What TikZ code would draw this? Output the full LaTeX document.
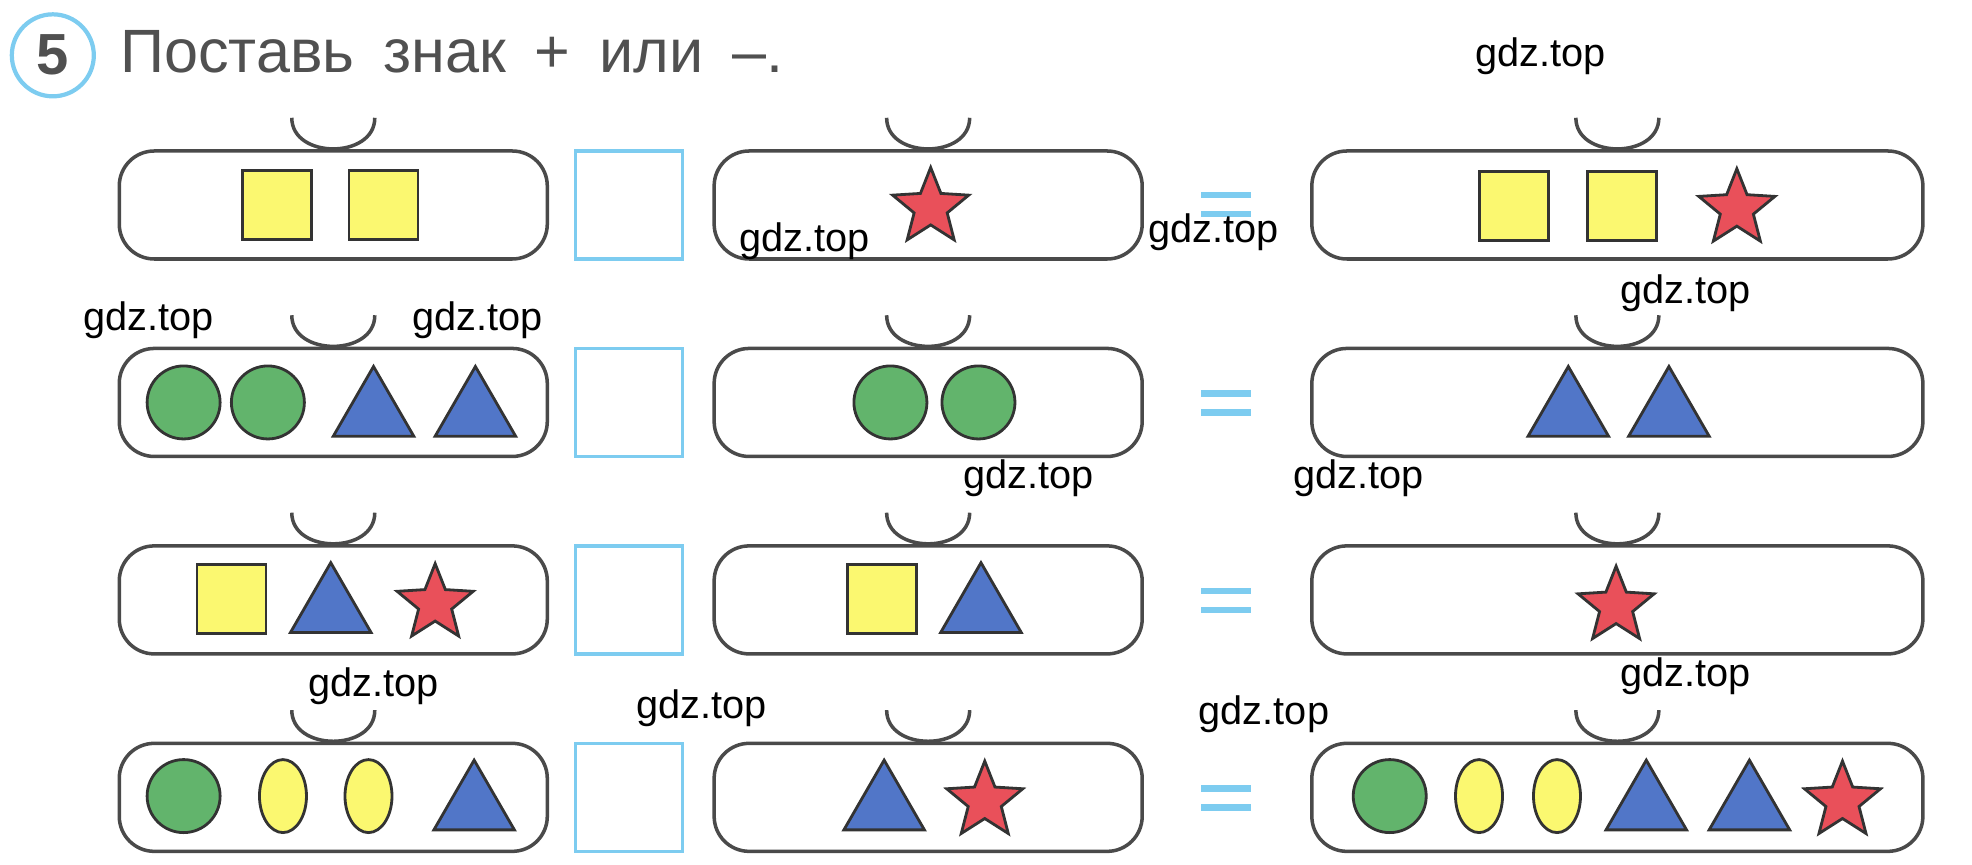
\documentclass[tikz,border=0pt]{standalone}
\usepackage{fontspec}
\setmainfont{Liberation Sans}
\newfontfamily\titlefont[WordSpace=1.7]{Liberation Sans}
\usetikzlibrary{shapes.geometric}

\definecolor{frameline}{HTML}{4A4A4A}
\definecolor{skyline}{HTML}{7DCCF0}
\definecolor{lemon}{HTML}{FBF870}
\definecolor{leaf}{HTML}{62B46C}
\definecolor{cobalt}{HTML}{5176C8}
\definecolor{coral}{HTML}{E9505A}
\definecolor{inkgrey}{HTML}{505050}

\tikzset{
  frame/.style={draw=frameline, line width=1pt, rounded corners=3.5mm, minimum height=10.8mm, inner sep=0},
  cup/.style={draw=frameline, line width=1pt},
  gap/.style={draw=skyline, line width=1pt, minimum width=10.7mm, minimum height=10.8mm, inner sep=0},
  eqbar/.style={draw=skyline, line width=1.8pt},
  outline/.style={draw=black!80, line width=0.8pt, inner sep=0},
  sqr/.style={outline, fill=lemon, minimum size=6.9mm},
  ball/.style={outline, fill=leaf, circle, minimum size=7.3mm},
  oval/.style={outline, fill=lemon, ellipse, minimum width=4.7mm, minimum height=7.3mm},
  tri/.style={outline, fill=cobalt, regular polygon, regular polygon sides=3, minimum size=9.3mm, anchor=south},
  redstar/.style={outline, fill=coral, star, star points=5, star point ratio=2.3, minimum size=8mm},
  wm/.style={font=\fontsize{11.3}{13}\selectfont, inner sep=0},
}

\begin{document}
\begin{tikzpicture}[x=0.12577mm, y=-0.12577mm]
\useasboundingbox (0,0) rectangle (1568,687);

% Task title
\node[draw=skyline, line width=1.2pt, circle, minimum size=8.2mm, inner sep=0,
      font=\bfseries\fontsize{16.5}{18}\selectfont, text=inkgrey] (num) at (42,44) {5};
\node[anchor=base west, inner sep=0, font=\titlefont\fontsize{17.4}{20}\selectfont, text=inkgrey] (task) at (95,58) {Поставь знак + или –.};

% Row 1
\node[frame, minimum width=42.8mm] (b11) at (265,163) {};
\node[gap] (g1) at (500,163) {};
\node[frame, minimum width=42.8mm] (b12) at (738,163) {};
\draw[eqbar] (955,155) -- (995,155);
\draw[eqbar] (955,170) -- (995,170);
\node[frame, minimum width=61.1mm] (b13) at (1286,163) {};
\draw[cup,shift={(b11.north)}] (-33,-25) .. controls (-33,8) and (33,8) .. (33,-25);
\draw[cup,shift={(b12.north)}] (-33,-25) .. controls (-33,8) and (33,8) .. (33,-25);
\draw[cup,shift={(b13.north)}] (-33,-25) .. controls (-33,8) and (33,8) .. (33,-25);
\node[sqr] (s111) at (220,163) {};
\node[sqr] (s112) at (305,163) {};
\node[redstar] (s121) at (740,165) {};
\node[sqr] (s131) at (1204,164) {};
\node[sqr] (s132) at (1290,164) {};
\node[redstar] (s133) at (1381,166) {};

% Row 2
\node[frame, minimum width=42.8mm] (b21) at (265,320) {};
\node[gap] (g2) at (500,320) {};
\node[frame, minimum width=42.8mm] (b22) at (738,320) {};
\draw[eqbar] (955,313) -- (995,313);
\draw[eqbar] (955,328) -- (995,328);
\node[frame, minimum width=61.1mm] (b23) at (1286,320) {};
\draw[cup,shift={(b21.north)}] (-33,-25) .. controls (-33,8) and (33,8) .. (33,-25);
\draw[cup,shift={(b22.north)}] (-33,-25) .. controls (-33,8) and (33,8) .. (33,-25);
\draw[cup,shift={(b23.north)}] (-33,-25) .. controls (-33,8) and (33,8) .. (33,-25);
\node[ball] (s211) at (146,320) {};
\node[ball] (s212) at (213,320) {};
\node[tri] (s213) at (297,348) {};
\node[tri] (s214) at (378,348) {};
\node[ball] (s221) at (708,320) {};
\node[ball] (s222) at (778,320) {};
\node[tri] (s231) at (1247,348) {};
\node[tri] (s232) at (1327,348) {};

% Row 3
\node[frame, minimum width=42.8mm] (b31) at (265,477) {};
\node[gap] (g3) at (500,477) {};
\node[frame, minimum width=42.8mm] (b32) at (738,477) {};
\draw[eqbar] (955,470) -- (995,470);
\draw[eqbar] (955,485) -- (995,485);
\node[frame, minimum width=61.1mm] (b33) at (1286,477) {};
\draw[cup,shift={(b31.north)}] (-33,-25) .. controls (-33,8) and (33,8) .. (33,-25);
\draw[cup,shift={(b32.north)}] (-33,-25) .. controls (-33,8) and (33,8) .. (33,-25);
\draw[cup,shift={(b33.north)}] (-33,-25) .. controls (-33,8) and (33,8) .. (33,-25);
\node[sqr] (s311) at (184,476) {};
\node[tri] (s312) at (263,504) {};
\node[redstar] (s313) at (346,480) {};
\node[sqr] (s321) at (701,476) {};
\node[tri] (s322) at (780,504) {};
\node[redstar] (s331) at (1285,482) {};

% Row 4
\node[frame, minimum width=42.8mm] (b41) at (265,634) {};
\node[gap] (g4) at (500,634) {};
\node[frame, minimum width=42.8mm] (b42) at (738,634) {};
\draw[eqbar] (955,627) -- (995,627);
\draw[eqbar] (955,642) -- (995,642);
\node[frame, minimum width=61.1mm] (b43) at (1286,634) {};
\draw[cup,shift={(b41.north)}] (-33,-25) .. controls (-33,8) and (33,8) .. (33,-25);
\draw[cup,shift={(b42.north)}] (-33,-25) .. controls (-33,8) and (33,8) .. (33,-25);
\draw[cup,shift={(b43.north)}] (-33,-25) .. controls (-33,8) and (33,8) .. (33,-25);
\node[ball] (s411) at (146,633) {};
\node[oval] (s412) at (225,633) {};
\node[oval] (s413) at (293,633) {};
\node[tri] (s414) at (377,661) {};
\node[tri] (s421) at (703,661) {};
\node[redstar] (s422) at (783,637) {};
\node[ball] (s431) at (1105,633) {};
\node[oval] (s432) at (1176,633) {};
\node[oval] (s433) at (1238,633) {};
\node[tri] (s434) at (1309,661) {};
\node[tri] (s435) at (1391,661) {};
\node[redstar] (s436) at (1465,637) {};

% Watermarks
\node[wm] (w1) at (1225,45) {gdz.top};
\node[wm] (w2) at (640,192) {gdz.top};
\node[wm] (w3) at (965,185) {gdz.top};
\node[wm] (w4) at (118,255) {gdz.top};
\node[wm] (w5) at (380,255) {gdz.top};
\node[wm] (w6) at (1340,233) {gdz.top};
\node[wm] (w7) at (818,380) {gdz.top};
\node[wm] (w8) at (1080,380) {gdz.top};
\node[wm] (w9) at (297,546) {gdz.top};
\node[wm] (w10) at (558,563) {gdz.top};
\node[wm] (w11) at (1005,568) {gdz.top};
\node[wm] (w12) at (1340,538) {gdz.top};

\end{tikzpicture}
\end{document}
